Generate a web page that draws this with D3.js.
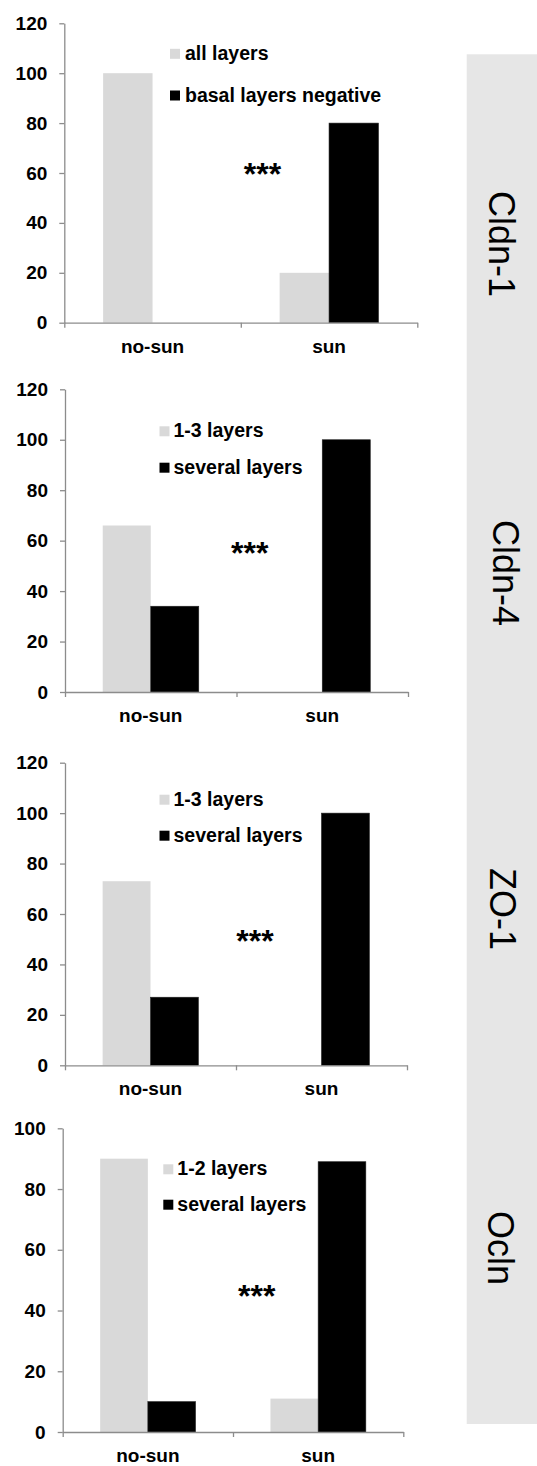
<!DOCTYPE html>
<html>
<head>
<meta charset="utf-8">
<script src="https://cdn.jsdelivr.net/npm/d3@7"></script>
<style>
  html, body { margin: 0; padding: 0; background: #fff; }
  svg { display: block; font-family: "Liberation Sans", Arial, sans-serif; }
</style>
</head>
<body>
<svg id="chart" width="537" height="1466"></svg>
<script>
// ---------- data ----------
const categories = ["no-sun", "sun"];

const panelNames = ["Cldn-1", "Cldn-4", "ZO-1", "Ocln"];

const cldn1Series = ["all layers", "basal layers negative"];
const cldn1Light = [100, 20];
const cldn1Dark = [0, 80];

const cldn4Series = ["1-3 layers", "several layers"];
const cldn4Light = [66, 0];
const cldn4Dark = [34, 100];

const zo1Series = ["1-3 layers", "several layers"];
const zo1Light = [73, 0];
const zo1Dark = [27, 100];

const oclnSeries = ["1-2 layers", "several layers"];
const oclnLight = [90, 11];
const oclnDark = [10, 89];

const ticks120 = [0, 20, 40, 60, 80, 100, 120];
const ticks100 = [0, 20, 40, 60, 80, 100];

const significance = "***";

// ---------- layout (positions only) ----------
const layouts = [
  { xL: 64.3, xR: 417.3, y0: 322.7, yTop: 23.3, max: 120, ticks: ticks120,
    sqX: 170, rows: [53.8, 95.5], txtX: 185, star: [262.5, 166.7], lab: [489, 244] },
  { xL: 65, xR: 408, y0: 692, yTop: 389.3, max: 120, ticks: ticks120,
    sqX: 159.5, rows: [431.3, 467.7], txtX: 173.5, star: [249.7, 545.7], lab: [493, 573] },
  { xL: 65, xR: 407, y0: 1065.3, yTop: 762.7, max: 120, ticks: ticks120,
    sqX: 159.5, rows: [799.7, 835.7], txtX: 173.5, star: [255, 933.3], lab: [490, 909] },
  { xL: 62.7, xR: 403.3, y0: 1432, yTop: 1128.3, max: 100, ticks: ticks100,
    sqX: 163.3, rows: [1169.3, 1204.7], txtX: 177.3, star: [256.7, 1288.3], lab: [488, 1248] }
];

const seriesSets = [cldn1Series, cldn4Series, zo1Series, oclnSeries];
const lightSets = [cldn1Light, cldn4Light, zo1Light, oclnLight];
const darkSets = [cldn1Dark, cldn4Dark, zo1Dark, oclnDark];

const LIGHT = "#d9d9d9", DARK = "#000000", AXIS = "#8c8c8c";

const svg = d3.select("#chart");

// grey side strip
svg.append("rect")
  .attr("x", 466.7).attr("y", 54.3)
  .attr("width", 537 - 466.7).attr("height", 1424 - 54.3)
  .attr("fill", "#e6e6e6");

layouts.forEach((L, i) => {
  const g = svg.append("g");
  const series = seriesSets[i];
  const colors = d3.scaleOrdinal().domain(series).range([LIGHT, DARK]);

  const y = d3.scaleLinear().domain([0, L.max]).range([L.y0, L.yTop]);
  const x = d3.scaleBand().domain(categories).range([L.xL, L.xR]).padding(0);
  const bw = x.bandwidth();
  const barW = bw * 0.28;
  const x1 = d3.scaleBand().domain(series).range([bw / 2 - barW, bw / 2 + barW]).padding(0);

  const rows = categories.map((c, k) => ({
    cat: c,
    vals: [ { s: series[0], v: lightSets[i][k] }, { s: series[1], v: darkSets[i][k] } ]
  }));

  // bars
  g.selectAll("g.cat").data(rows).join("g")
    .attr("transform", d => `translate(${x(d.cat)},0)`)
    .selectAll("rect").data(d => d.vals.filter(e => e.v > 0)).join("rect")
      .attr("x", d => x1(d.s))
      .attr("width", x1.bandwidth())
      .attr("y", d => y(d.v))
      .attr("height", d => y(0) - y(d.v))
      .attr("fill", d => colors(d.s))
      .attr("stroke", d => d.s === series[1] ? "#222" : "none")
      .attr("stroke-width", 0.6);

  // y axis
  const ya = g.append("g")
    .attr("transform", `translate(${L.xL},0)`)
    .call(d3.axisLeft(y).tickValues(L.ticks).tickSize(5).tickSizeOuter(0).tickPadding(12));
  ya.select(".domain").attr("stroke", AXIS).attr("stroke-width", 1.3);
  ya.selectAll(".tick line").attr("stroke", AXIS).attr("stroke-width", 1.3);
  ya.selectAll(".tick text")
    .attr("font-family", "Liberation Sans, Arial, sans-serif")
    .attr("font-size", 19).attr("font-weight", "bold").attr("fill", "#000");

  // x axis
  const xt = d3.scaleLinear().domain([0, categories.length]).range([L.xL, L.xR]);
  const xa = g.append("g")
    .attr("transform", `translate(0,${L.y0})`)
    .call(d3.axisBottom(xt).tickValues(d3.range(categories.length + 1)).tickFormat("").tickSize(5).tickSizeOuter(0));
  xa.select(".domain").attr("stroke", AXIS).attr("stroke-width", 1.3);
  xa.selectAll(".tick line").attr("stroke", AXIS).attr("stroke-width", 1.3);

  // category labels
  g.selectAll("text.cat").data(categories).join("text")
    .attr("class", "cat")
    .attr("x", d => x(d) + bw / 2)
    .attr("y", L.y0 + 30)
    .attr("text-anchor", "middle")
    .attr("font-size", 19).attr("font-weight", "bold")
    .text(d => d);

  // legend
  const lg = g.selectAll("g.leg").data(series).join("g")
    .attr("transform", (d, k) => `translate(0,${L.rows[k]})`);
  lg.append("rect")
    .attr("x", L.sqX).attr("y", -5).attr("width", 10).attr("height", 10)
    .attr("fill", d => colors(d));
  lg.append("text")
    .attr("x", L.txtX).attr("y", 6)
    .attr("font-size", 19.5).attr("font-weight", "bold")
    .text(d => d);

  // significance
  g.append("text")
    .attr("x", L.star[0]).attr("y", L.star[1])
    .attr("dy", "0.58em")
    .attr("text-anchor", "middle")
    .attr("font-size", 32).attr("font-weight", "bold")
    .text(significance);

  // side label
  g.append("text")
    .attr("transform", `translate(${L.lab[0]},${L.lab[1]}) rotate(90)`)
    .attr("text-anchor", "middle")
    .attr("font-size", 36)
    .text(panelNames[i]);
});
</script>
</body>
</html>
